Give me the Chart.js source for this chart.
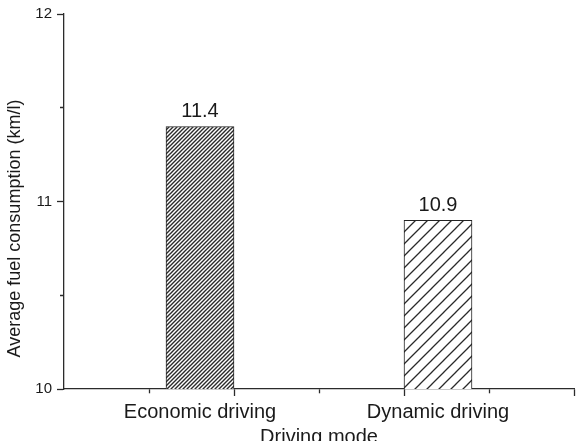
<!DOCTYPE html>
<html>
<head>
<meta charset="utf-8">
<script src="https://cdn.jsdelivr.net/npm/chart.js@4/dist/chart.umd.min.js"></script>
<style>
  html, body { margin: 0; padding: 0; background: #ffffff; }
  #wrap { width: 581px; height: 441px; }
</style>
</head>
<body>
<div id="wrap"><canvas id="c" width="581" height="441"></canvas></div>
<script>
// ---- data ----
const categories = ["Economic driving", "Dynamic driving"];
const categoryPositions = [0.8, 2.2];          // x values of the bars on the axis
const fuelConsumption = [11.4, 10.9];           // km/l
const yTickValues = [10, 10.5, 11, 11.5, 12];
const xTickValues = [0.5, 1, 1.5, 2, 2.5, 3];
const xAxisTitle = 'Driving mode';
const yAxisTitle = 'Average fuel consumption (km/l)';

const FONT = '"Liberation Sans", Arial, Helvetica, sans-serif';
const TEXT = '#1a1a1a';
const AXIS = '#2b2b2b';

function makeHatch(spacing, lineWidth, color) {
  const c = document.createElement('canvas');
  c.width = spacing; c.height = spacing;
  const g = c.getContext('2d');
  g.fillStyle = '#ffffff';
  g.fillRect(0, 0, spacing, spacing);
  g.strokeStyle = color;
  g.lineWidth = lineWidth;
  g.beginPath();
  for (const off of [-spacing, 0, spacing]) {
    g.moveTo(off - 1, spacing + 1);
    g.lineTo(off + spacing + 1, -1);
  }
  g.stroke();
  return g.createPattern(c, 'repeat');
}
const patterns = [makeHatch(4, 1.4, '#2a2a2a'), makeHatch(12, 1.3, '#2a2a2a')];

const valueLabels = {
  id: 'valueLabels',
  afterDatasetsDraw(chart) {
    const ctx = chart.ctx;
    const meta = chart.getDatasetMeta(0);
    ctx.save();
    ctx.font = '20px ' + FONT;
    ctx.fillStyle = TEXT;
    ctx.textAlign = 'center';
    ctx.textBaseline = 'middle';
    meta.data.forEach((el, i) => {
      ctx.fillText(fuelConsumption[i].toFixed(1), el.x, el.y - 15);
    });
    ctx.restore();
  }
};

// y-axis title, placed like the original (a little below the axis centre)
const yTitle = {
  id: 'yTitle',
  afterDraw(chart) {
    const ctx = chart.ctx;
    const a = chart.chartArea;
    ctx.save();
    ctx.font = '18px ' + FONT;
    ctx.fillStyle = TEXT;
    ctx.textAlign = 'center';
    ctx.textBaseline = 'middle';
    ctx.translate(15, (a.top + a.bottom) / 2 + 27);
    ctx.rotate(-Math.PI / 2);
    ctx.fillText(yAxisTitle, 0, 0);
    ctx.restore();
  }
};

const isLabelTick = v => categoryPositions.some(p => Math.abs(p - v) < 1e-9);

new Chart(document.getElementById('c'), {
  type: 'bar',
  data: {
    datasets: [{
      data: categoryPositions.map((x, i) => ({ x: x, y: fuelConsumption[i] })),
      backgroundColor: patterns,
      borderColor: '#222222',
      borderWidth: 1,
      barThickness: 68
    }]
  },
  options: {
    responsive: false,
    animation: false,
    events: [],
    layout: { padding: { left: 0, top: 13, right: 7, bottom: 0 } },
    plugins: { legend: { display: false }, tooltip: { enabled: false } },
    scales: {
      x: {
        type: 'linear',
        min: 0,
        max: 3,
        offset: false,
        afterBuildTicks(scale) {
          scale.ticks = xTickValues.concat(categoryPositions)
            .sort((a, b) => a - b)
            .map(v => ({ value: v }));
        },
        afterFit(scale) { scale.height = 52; },
        grid: {
          offset: false,
          drawOnChartArea: false,
          tickLength: 7,
          tickWidth: 1.3,
          tickColor: ctx => (ctx.tick && isLabelTick(ctx.tick.value)) ? 'rgba(0,0,0,0)' : AXIS,
          tickBorderDash: ctx => (ctx.tick && !Number.isInteger(ctx.tick.value) && !isLabelTick(ctx.tick.value)) ? [4, 20] : []
        },
        border: { display: true, color: AXIS, width: 1.3 },
        ticks: {
          autoSkip: false,
          maxRotation: 0,
          padding: 4,
          color: TEXT,
          font: { family: FONT, size: 20 },
          callback: v => {
            const idx = categoryPositions.findIndex(p => Math.abs(p - v) < 1e-9);
            return idx >= 0 ? categories[idx] : '';
          }
        },
        title: {
          display: true,
          text: xAxisTitle,
          color: TEXT,
          font: { family: FONT, size: 20 },
          padding: { top: 0, bottom: -8 }
        }
      },
      y: {
        min: 10,
        max: 12,
        afterBuildTicks(scale) {
          scale.ticks = yTickValues.map(v => ({ value: v }));
        },
        afterFit(scale) { scale.width = 64; },
        grid: {
          drawOnChartArea: false,
          tickLength: 7,
          tickWidth: 1.3,
          tickColor: AXIS,
          tickBorderDash: ctx => (ctx.tick && !Number.isInteger(ctx.tick.value)) ? [0, 3, 4, 0] : []
        },
        border: { display: true, color: AXIS, width: 1.3 },
        ticks: {
          padding: 5,
          color: TEXT,
          font: { family: FONT, size: 15 },
          callback: v => Number.isInteger(v) ? String(v) : ''
        }
      }
    }
  },
  plugins: [valueLabels, yTitle]
});
</script>
</body>
</html>
